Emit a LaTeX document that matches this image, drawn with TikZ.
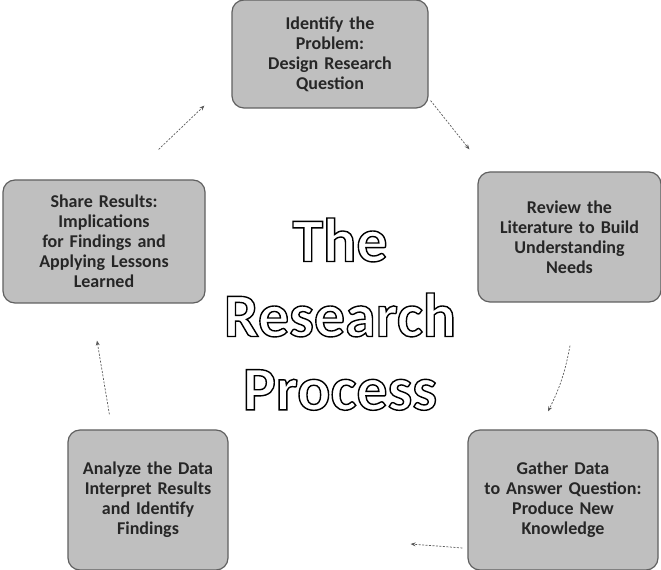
\documentclass[tikz,border=0pt]{standalone}
\usepackage{fontspec}
\setmainfont{Carlito}
\usetikzlibrary{arrows.meta}
\newcommand{\hollowtext}[1]{\special{pdf:literal direct 1 Tr 1.4 w 0 G}#1\special{pdf:literal direct 0 Tr}}
\tikzset{
  stagebox/.style={draw=gray!75!black, line width=1.2pt, fill=gray!50, rounded corners=12pt,
    align=center, inner sep=3pt, font=\fontsize{18}{20}\selectfont\bfseries, text=black!85},
  cyclearrow/.style={draw=gray!70!black, line width=0.7pt, dashed, dash pattern=on 2pt off 1.5pt,
    -{Stealth[length=5pt,width=4pt]}},
  titletext/.style={font=\fontsize{62}{70}\selectfont\bfseries, align=center}
}
\begin{document}
\begin{tikzpicture}[x=1pt,y=1pt]
\useasboundingbox (0,0) rectangle (661,570);
\node[stagebox, minimum width=196pt, minimum height=108pt, text width=188pt] (top) at (330,516)
  {Identify the\\Problem:\\Design Research\\Question};
\node[stagebox, minimum width=183pt, minimum height=130pt, text width=177pt] (right) at (569.5,333)
  {Review the\\Literature to Build\\Understanding\\Needs};
\node[stagebox, minimum width=202pt, minimum height=123pt, text width=194pt] (left) at (104,328.5)
  {Share Results:\\Implications\\for Findings and\\Applying Lessons\\Learned};
\node[stagebox, minimum width=160pt, minimum height=140pt, text width=154pt] (bleft) at (148,70)
  {Analyze the Data\\Interpret Results\\and Identify\\Findings};
\node[stagebox, minimum width=190pt, minimum height=140pt, text width=184pt] (bright) at (563,70)
  {Gather Data\\to Answer Question:\\Produce New\\Knowledge};
\node[titletext] (title1) at (340,330) {\hollowtext{The}};
\node[titletext] (title2) at (340,255) {\hollowtext{Research}};
\node[titletext] (title3) at (340,180) {\hollowtext{Process}};
\draw[cyclearrow] ([xshift=-47pt,yshift=30pt]left.north east) -- ([xshift=-27pt,yshift=3pt]top.south west);
\draw[cyclearrow] ([xshift=2pt,yshift=8pt]top.south east) -- ([xshift=-8pt,yshift=22pt]right.north west);
\draw[cyclearrow] ([xshift=0.5pt,yshift=-43pt]right.south) to[bend left=8] ([xshift=-15pt,yshift=18pt]bright.north);
\draw[cyclearrow] ([xshift=-5pt,yshift=-48pt]bright.west) -- ([xshift=182pt,yshift=-44pt]bleft.east);
\draw[cyclearrow] ([xshift=42pt,yshift=15pt]bleft.north west) -- ([xshift=-7pt,yshift=-37pt]left.south);
\end{tikzpicture}
\end{document}
